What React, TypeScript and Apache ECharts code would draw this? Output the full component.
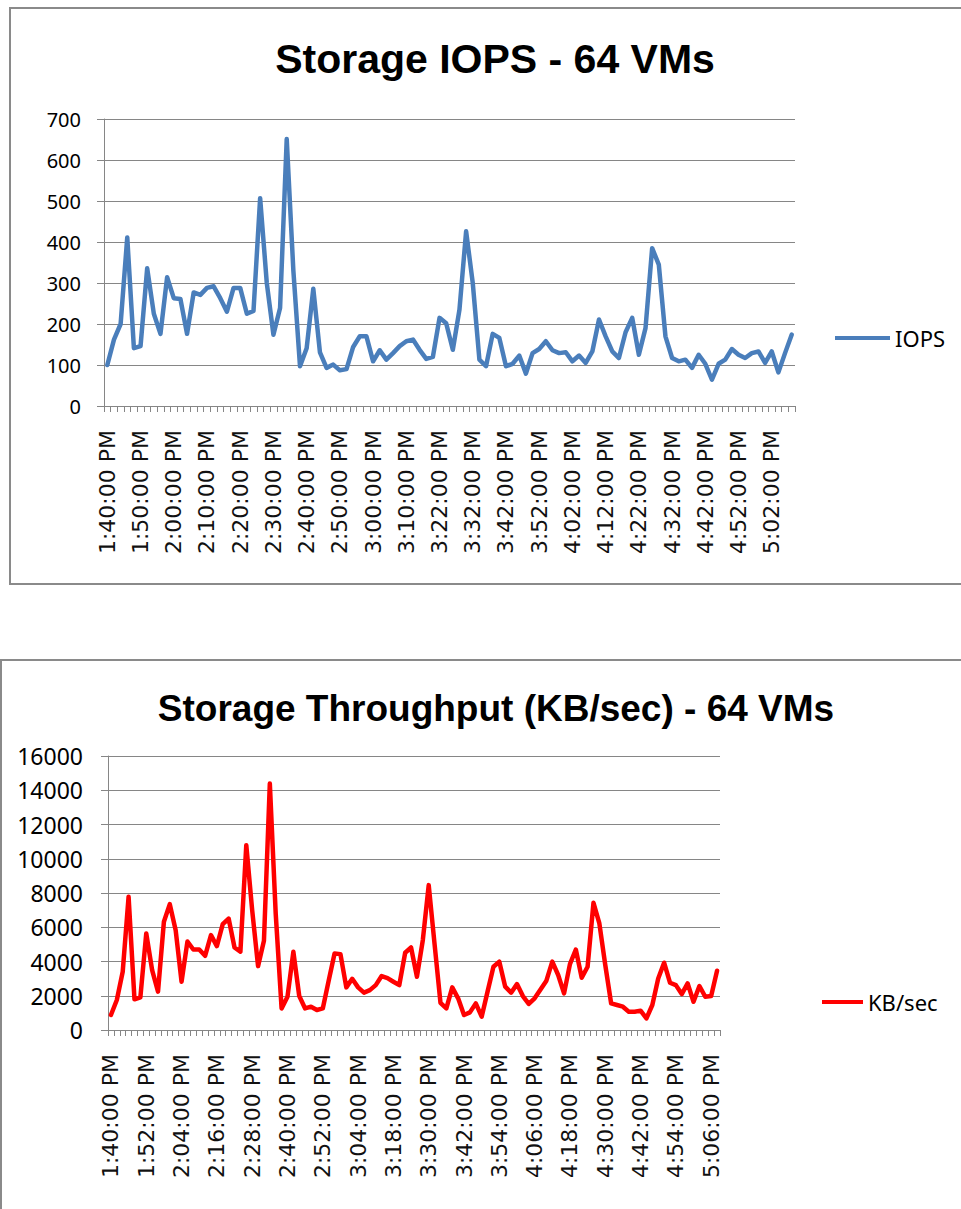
import React, { useEffect, useRef } from "react";
import * as echarts from "echarts";

const times: string[] = [
  "1:40:00 PM", "1:42:00 PM", "1:44:00 PM", "1:46:00 PM", "1:48:00 PM", "1:50:00 PM", "1:52:00 PM", "1:54:00 PM", "1:56:00 PM", "1:58:00 PM",
  "2:00:00 PM", "2:02:00 PM", "2:04:00 PM", "2:06:00 PM", "2:08:00 PM", "2:10:00 PM", "2:12:00 PM", "2:14:00 PM", "2:16:00 PM", "2:18:00 PM",
  "2:20:00 PM", "2:22:00 PM", "2:24:00 PM", "2:26:00 PM", "2:28:00 PM", "2:30:00 PM", "2:32:00 PM", "2:34:00 PM", "2:36:00 PM", "2:38:00 PM",
  "2:40:00 PM", "2:42:00 PM", "2:44:00 PM", "2:46:00 PM", "2:48:00 PM", "2:50:00 PM", "2:52:00 PM", "2:54:00 PM", "2:56:00 PM", "2:58:00 PM",
  "3:00:00 PM", "3:02:00 PM", "3:04:00 PM", "3:06:00 PM", "3:08:00 PM", "3:10:00 PM", "3:14:00 PM", "3:16:00 PM", "3:18:00 PM", "3:20:00 PM",
  "3:22:00 PM", "3:24:00 PM", "3:26:00 PM", "3:28:00 PM", "3:30:00 PM", "3:32:00 PM", "3:34:00 PM", "3:36:00 PM", "3:38:00 PM", "3:40:00 PM",
  "3:42:00 PM", "3:44:00 PM", "3:46:00 PM", "3:48:00 PM", "3:50:00 PM", "3:52:00 PM", "3:54:00 PM", "3:56:00 PM", "3:58:00 PM", "4:00:00 PM",
  "4:02:00 PM", "4:04:00 PM", "4:06:00 PM", "4:08:00 PM", "4:10:00 PM", "4:12:00 PM", "4:14:00 PM", "4:16:00 PM", "4:18:00 PM", "4:20:00 PM",
  "4:22:00 PM", "4:24:00 PM", "4:26:00 PM", "4:28:00 PM", "4:30:00 PM", "4:32:00 PM", "4:34:00 PM", "4:36:00 PM", "4:38:00 PM", "4:40:00 PM",
  "4:42:00 PM", "4:44:00 PM", "4:46:00 PM", "4:48:00 PM", "4:50:00 PM", "4:52:00 PM", "4:54:00 PM", "4:56:00 PM", "4:58:00 PM", "5:00:00 PM",
  "5:02:00 PM", "5:04:00 PM", "5:06:00 PM", "5:08:00 PM",
];

const iops: number[] = [
  100, 162, 200, 411, 141, 146, 336, 225, 176, 314,
  263, 261, 176, 277, 271, 288, 292, 263, 230, 288,
  288, 225, 232, 507, 300, 174, 239, 651, 330, 97,
  141, 286, 131, 93, 101, 87, 90, 144, 170, 170,
  109, 136, 113, 129, 146, 158, 162, 137, 115, 120,
  215, 202, 137, 235, 426, 300, 113, 97, 176, 166,
  97, 103, 123, 79, 129, 139, 158, 136, 129, 131,
  109, 123, 105, 133, 211, 170, 133, 117, 180, 215,
  125, 190, 385, 345, 170, 117, 109, 113, 93, 125,
  103, 64, 103, 113, 139, 125, 117, 129, 133, 105,
  133, 82, 129, 174,
];

const kbSec: number[] = [
  875, 1750, 3400, 7780, 1790, 1905, 5640, 3500, 2240, 6320,
  7350, 5830, 2820, 5170, 4700, 4700, 4335, 5540, 4900, 6180,
  6510, 4820, 4570, 10790, 7000, 3730, 5210, 14390, 6800, 1260,
  1940, 4570, 1980, 1260, 1360, 1170, 1260, 2880, 4470, 4430,
  2490, 2990, 2490, 2180, 2330, 2620, 3150, 3030, 2820, 2620,
  4510, 4820, 3110, 5250, 8460, 5000, 1590, 1260, 2490, 1850,
  875, 1030, 1555, 780, 2240, 3690, 3990, 2530, 2180, 2680,
  1980, 1520, 1850, 2370, 2880, 3990, 3210, 2140, 3850, 4700,
  3050, 3690, 7430, 6220, 3800, 1555, 1460, 1360, 1070, 1070,
  1130, 680, 1460, 3010, 3930, 2760, 2620, 2100, 2720, 1650,
  2570, 1940, 1980, 3460,
];

const GRAY = "#868686";
const LABEL_FONT = "DejaVu Sans";
const NUM_FONT = "Noto Sans";

function xAxis(gridIndex: number, labelInterval: number) {
  return {
    type: "category",
    gridIndex,
    data: times,
    boundaryGap: true,
    axisLine: { show: true, lineStyle: { color: GRAY, width: 1 } },
    axisTick: { show: true, interval: 0, length: 6, lineStyle: { color: GRAY } },
    axisLabel: {
      interval: labelInterval,
      rotate: 90,
      margin: 24,
      fontFamily: LABEL_FONT,
      fontSize: 22,
      color: "#111",
    },
    splitLine: { show: false },
  };
}

function yAxis(gridIndex: number, max: number, interval: number, fontSize: number, margin: number) {
  return {
    type: "value",
    gridIndex,
    min: 0,
    max,
    interval,
    axisLine: { show: true, lineStyle: { color: GRAY, width: 1 } },
    axisTick: { show: true, length: 7, lineStyle: { color: GRAY } },
    axisLabel: {
      margin,
      fontFamily: NUM_FONT,
      fontSize,
      color: "#000",
      formatter: (v: number) => String(v),
    },
    splitLine: { show: true, lineStyle: { color: GRAY, width: 1 } },
  };
}

export default function App() {
  const ref = useRef<HTMLDivElement>(null);

  useEffect(() => {
    if (!ref.current) return;
    const chart = echarts.init(ref.current, undefined, { renderer: "svg" });
    chart.setOption({
      animation: false,
      backgroundColor: "#ffffff",
      title: [
        {
          text: "Storage IOPS - 64 VMs",
          left: 490,
          top: 33,
          textAlign: "center",
          textStyle: { fontFamily: "Liberation Sans", fontWeight: "bold", fontSize: 41, color: "#000" },
        },
        {
          text: "Storage Throughput (KB/sec) - 64 VMs",
          left: 491,
          top: 685,
          textAlign: "center",
          textStyle: { fontFamily: "Liberation Sans", fontWeight: "bold", fontSize: 37, color: "#000" },
        },
      ],
      legend: [
        {
          data: ["IOPS"],
          left: 830,
          top: 322,
          icon: "rect",
          itemWidth: 55,
          itemHeight: 4,
          textStyle: { fontFamily: NUM_FONT, fontSize: 22, color: "#000" },
        },
        {
          data: ["KB/sec"],
          left: 817,
          top: 986,
          icon: "rect",
          itemWidth: 41,
          itemHeight: 4,
          textStyle: { fontFamily: NUM_FONT, fontSize: 22, color: "#000" },
        },
      ],
      grid: [
        { left: 104, top: 119, width: 691, height: 287, outerBoundsMode: "none", containLabel: false },
        { left: 108, top: 756, width: 612, height: 274, outerBoundsMode: "none", containLabel: false },
      ],
      xAxis: [xAxis(0, 4), xAxis(1, 5)],
      yAxis: [yAxis(0, 700, 100, 20, 23), yAxis(1, 16000, 2000, 23, 25)],
      series: [
        {
          name: "IOPS",
          type: "line",
          xAxisIndex: 0,
          yAxisIndex: 0,
          data: iops,
          showSymbol: false,
          symbol: "none",
          color: "#4A7EBB",
          lineStyle: { color: "#4A7EBB", width: 4.5, cap: "round", join: "round" },
        },
        {
          name: "KB/sec",
          type: "line",
          xAxisIndex: 1,
          yAxisIndex: 1,
          data: kbSec,
          showSymbol: false,
          symbol: "none",
          color: "#FF0000",
          lineStyle: { color: "#FF0000", width: 4.5, cap: "round", join: "round" },
        },
      ],
      graphic: [
        {
          type: "rect",
          silent: true,
          z: -1,
          shape: { x: 10, y: 8, width: 1000, height: 576 },
          style: { fill: "none", stroke: "#8a8a8a", lineWidth: 2 },
        },
        {
          type: "rect",
          silent: true,
          z: -1,
          shape: { x: 1, y: 660, width: 1000, height: 600 },
          style: { fill: "none", stroke: "#8a8a8a", lineWidth: 2 },
        },
      ],
    });
    return () => chart.dispose();
  }, []);

  return (
    <div
      ref={ref}
      style={{ position: "absolute", left: 0, top: 0, width: 961, height: 1209, background: "#fff" }}
    />
  );
}
